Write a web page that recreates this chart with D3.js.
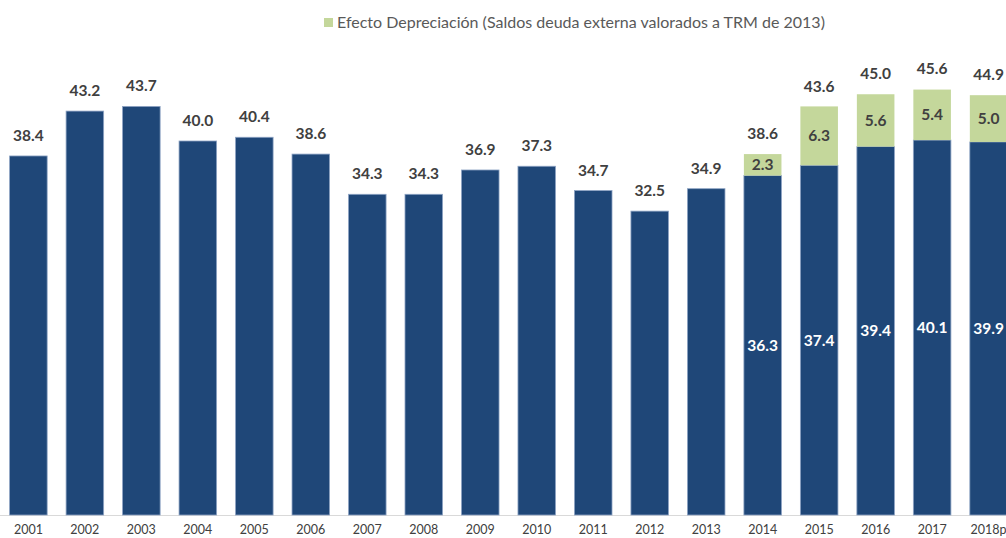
<!DOCTYPE html>
<html>
<head>
<meta charset="utf-8">
<script src="https://cdn.jsdelivr.net/npm/d3@7"></script>
<style>
  body { margin: 0; background: #fff; }
  text { font-family: Lato, "Open Sans", sans-serif; }
</style>
</head>
<body>
<div class="chart"></div>
<script>
const years = ['2001','2002','2003','2004','2005','2006','2007','2008','2009','2010','2011','2012','2013','2014','2015','2016','2017','2018p'];
const base = [38.4,43.2,43.7,40.0,40.4,38.6,34.3,34.3,36.9,37.3,34.7,32.5,34.9,36.3,37.4,39.4,40.1,39.9];
const deprec = [0,0,0,0,0,0,0,0,0,0,0,0,0,2.3,6.3,5.6,5.4,5.0];
const totals = [38.4,43.2,43.7,40.0,40.4,38.6,34.3,34.3,36.9,37.3,34.7,32.5,34.9,38.6,43.6,45.0,45.6,44.9];
const legendLabel = 'Efecto Depreciación (Saldos deuda externa valorados a TRM de 2013)';

const width = 1006, height = 538;
const baseY = 515, pxPerUnit = 9.35;
const yMax = 50;

const svg = d3.select('.chart').append('svg')
    .attr('width', width)
    .attr('height', height);

const x = d3.scaleBand()
    .domain(years)
    .range([0, 56.5 * years.length])
    .paddingInner(0.335)
    .paddingOuter(0.17);

const y = d3.scaleLinear()
    .domain([0, yMax])
    .range([baseY, baseY - yMax * pxPerUnit]);

const data = years.map((yr, i) => ({year: yr, base: base[i], dep: deprec[i], total: totals[i]}));

// axis line
svg.append('line')
    .attr('x1', 0).attr('x2', width)
    .attr('y1', baseY + 0.5).attr('y2', baseY + 0.5)
    .attr('stroke', '#d9d9d9')
    .attr('stroke-width', 1);

const xAxis = d3.axisBottom(x).tickSize(0).tickPadding(10);
const X = svg.append('g')
    .attr('transform', `translate(0, ${baseY})`)
    .call(xAxis);
X.select('.domain').remove();
X.selectAll('text')
    .attr('font-size', 12.5)
    .attr('fill', '#404040')
    .style('font-family', 'Lato, sans-serif');

// blue base bars
svg.append('g').selectAll('rect')
    .data(data)
    .enter()
    .append('rect')
    .attr('x', d => x(d.year))
    .attr('width', x.bandwidth())
    .attr('y', d => y(d.base))
    .attr('height', d => y(0) - y(d.base))
    .attr('fill', '#1f4778')
    .attr('stroke', '#8ea4c4')
    .attr('stroke-width', 0.8);

// green depreciation bars
const depData = data.filter(d => d.dep > 0);
svg.append('g').selectAll('rect')
    .data(depData)
    .enter()
    .append('rect')
    .attr('x', d => x(d.year))
    .attr('width', x.bandwidth())
    .attr('y', d => y(d.base + d.dep))
    .attr('height', d => y(d.base) - y(d.base + d.dep))
    .attr('fill', '#c4d79b');

// total labels
svg.append('g').selectAll('text')
    .data(data)
    .enter()
    .append('text')
    .attr('x', d => x(d.year) + x.bandwidth() / 2)
    .attr('y', d => y(d.total) - 15)
    .attr('text-anchor', 'middle')
    .attr('font-size', 15.5)
    .attr('font-weight', 'bold')
    .attr('fill', '#404040')
    .text(d => d.total.toFixed(1));

// green segment labels
svg.append('g').selectAll('text')
    .data(depData)
    .enter()
    .append('text')
    .attr('x', d => x(d.year) + x.bandwidth() / 2)
    .attr('y', d => (y(d.base) + y(d.base + d.dep)) / 2)
    .attr('dy', '0.36em')
    .attr('text-anchor', 'middle')
    .attr('font-size', 15.5)
    .attr('font-weight', 'bold')
    .attr('fill', '#404040')
    .text(d => d.dep.toFixed(1));

// blue segment labels (only where depreciation shown)
svg.append('g').selectAll('text')
    .data(depData)
    .enter()
    .append('text')
    .attr('x', d => x(d.year) + x.bandwidth() / 2)
    .attr('y', d => (y(0) + y(d.base)) / 2)
    .attr('dy', '0.36em')
    .attr('text-anchor', 'middle')
    .attr('font-size', 15.5)
    .attr('font-weight', 'bold')
    .attr('fill', '#ffffff')
    .text(d => d.base.toFixed(1));

// legend
const legend = svg.append('g').attr('transform', 'translate(324, 22)');
legend.append('rect')
    .attr('x', 0).attr('y', -4)
    .attr('width', 9).attr('height', 9)
    .attr('fill', '#c4d79b');
legend.append('text')
    .attr('x', 13)
    .attr('y', 0)
    .attr('dy', '0.35em')
    .attr('font-size', 16)
    .attr('fill', '#595959')
    .text(legendLabel);
</script>
</body>
</html>
